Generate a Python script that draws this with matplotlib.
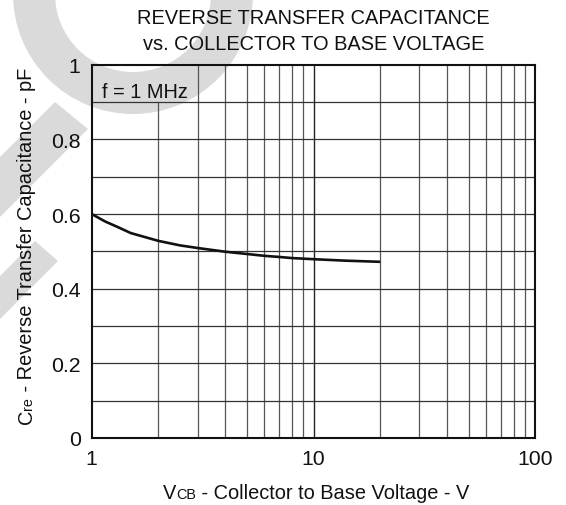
import numpy as np
import matplotlib
matplotlib.use("Agg")
import matplotlib.pyplot as plt
import matplotlib.transforms as mtransforms
from matplotlib.patches import Wedge, Polygon

# ---- data ----
vcb = [1, 1.15, 1.3, 1.5, 2, 2.5, 3, 4, 5, 6, 7, 8, 10, 14, 20]
cre = [0.600, 0.580, 0.566, 0.549, 0.528, 0.516, 0.509, 0.499, 0.493, 0.488,
       0.485, 0.482, 0.479, 0.475, 0.472]
x_ticks = [1, 10, 100]
x_tick_labels = ["1", "10", "100"]
y_ticks = [0, 0.2, 0.4, 0.6, 0.8, 1.0]
y_tick_labels = ["0", "0.2", "0.4", "0.6", "0.8", "1"]
title_lines = ["REVERSE TRANSFER CAPACITANCE", "vs. COLLECTOR TO BASE VOLTAGE"]
note_text = "f = 1 MHz"

W, H = 566, 506
FONT = "Liberation Sans"
plt.rcParams['font.family'] = [FONT, 'DejaVu Sans']
FS = 14.4
FS_TICK = 15.3

fig = plt.figure(figsize=(W / 100, H / 100), dpi=100)
fig.patch.set_facecolor("white")

L, R, T, B = 91.7, 535.3, 65.7, 439.0
ax = fig.add_axes([L / W, 1 - B / H, (R - L) / W, (B - T) / H])
ax.patch.set_visible(False)
ax.set_xscale("log")
ax.set_xlim(1, 100)
ax.set_ylim(0, 1)

# pixel transform (origin top-left)
pix = mtransforms.Affine2D().scale(1 / W, -1 / H).translate(0, 1) + fig.transFigure

# watermark shapes
wm = "#dadada"
fig.add_artist(Wedge((133, -5), 120, 0, 360, width=42, transform=pix,
                     facecolor=wm, edgecolor="none", zorder=-5))
def band(p1, p2, length=200):
    d = np.array([-1.0, 1.0]) / np.sqrt(2)
    p1 = np.array(p1, float); p2 = np.array(p2, float)
    pts = [p1, p2, p2 + d * length, p1 + d * length]
    fig.add_artist(Polygon(pts, closed=True, transform=pix,
                           facecolor=wm, edgecolor="none", zorder=-5))
band((55, 103), (88, 130))
band((35, 242), (58, 262))

# grid lines
minor = [k * d for d in (1, 10) for k in range(2, 10)]
for x in minor:
    top = 0.9 if 1 < x < 3 else 1.0
    ax.vlines(x, 0, top, color="#555555", lw=0.9, zorder=1)
ax.vlines(10, 0, 1, color="#222222", lw=1.0, zorder=1)
for y in np.arange(0.1, 1.0, 0.1):
    ax.axhline(y, color="#333333", lw=0.9, zorder=1)

ax.plot(vcb, cre, color="#111111", lw=1.9, zorder=3, solid_capstyle="butt",
        solid_joinstyle="round")

for s in ax.spines.values():
    s.set_linewidth(1.5)
    s.set_color("#111111")
    s.set_zorder(4)

ax.set_xticks(x_ticks)
ax.set_xticklabels(x_tick_labels)
ax.set_xticks([], minor=True)
ax.set_yticks(y_ticks)
ax.set_yticklabels(y_tick_labels)
ax.tick_params(axis="both", length=0, labelsize=FS_TICK, colors="#111111")
ax.tick_params(axis="x", pad=8)
ax.tick_params(axis="y", pad=8)

ax.text(np.sqrt(3), 0.928, note_text, ha="center", va="center", fontsize=FS,
        color="#111111", zorder=5)

def px2fig(x, y):
    return x / W, 1 - y / H

fig.text(*px2fig(313.5, 19), title_lines[0], ha="center", va="center", fontsize=FS, color="#111111")
fig.text(*px2fig(313.5, 45), title_lines[1], ha="center", va="center", fontsize=FS, color="#111111")

renderer = fig.canvas.get_renderer()

def measure(s, fs):
    t = fig.text(0, 0, s, fontsize=fs)
    w = t.get_window_extent(renderer).width
    t.remove()
    return w

def mixed(pieces, cx, cy, rotation=0):
    widths = [measure(s, fs) for s, fs in pieces]
    total = sum(widths)
    if rotation == 0:
        pos = cx - total / 2
        for (s, fs), w in zip(pieces, widths):
            fig.text(*px2fig(pos, cy), s, fontsize=fs, ha="left", va="baseline",
                     color="#111111")
            pos += w
    else:
        pos = cy + total / 2
        for (s, fs), w in zip(pieces, widths):
            fig.text(*px2fig(cx, pos), s, fontsize=fs, ha="left", va="baseline",
                     rotation=90, rotation_mode="anchor", color="#111111")
            pos -= w

mixed([("V", FS), ("CB", FS * 0.72), (" - Collector to Base Voltage - V", FS)], 316, 499)
mixed([("C", FS), ("re", FS * 0.72), (" - Reverse Transfer Capacitance - pF", FS)], 32, 246, rotation=90)

fig.savefig("out.png", dpi=100, facecolor="white")
